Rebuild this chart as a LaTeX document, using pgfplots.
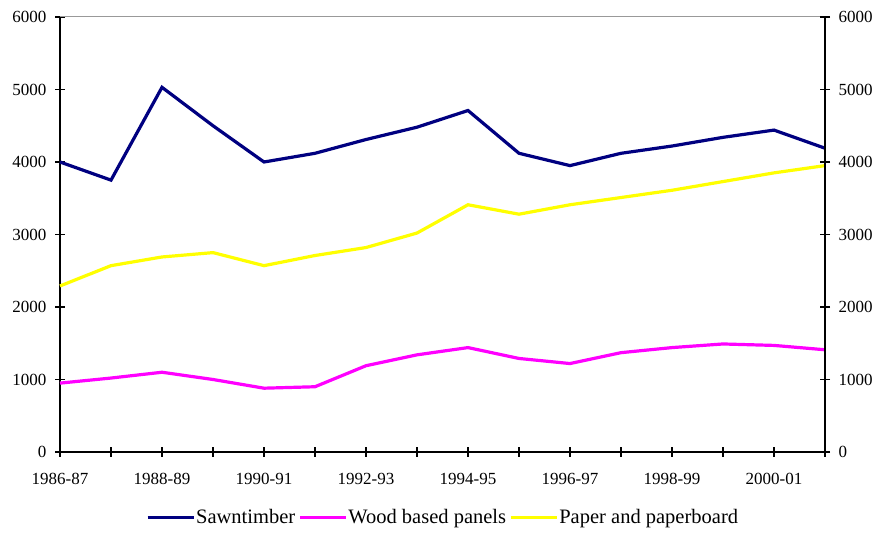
\documentclass[border=0pt]{standalone}
\usepackage{fontspec}
\setmainfont{Liberation Serif}
\usepackage{pgfplots}
\pgfplotsset{compat=1.18}
\definecolor{sawn}{RGB}{0,0,128}
\definecolor{wood}{RGB}{255,0,255}
\definecolor{paper}{RGB}{255,255,0}
\begin{document}
\begin{tikzpicture}
\pgfplotsset{
  common/.style={
    scale only axis, width=765pt, height=435pt,
    xmin=0, xmax=15, ymin=0, ymax=6000,
    ytick={0,1000,...,6000},
    tick align=center, major tick length=10pt,
    tick style={black, line width=1.3pt},
    /pgf/number format/assume math mode=true,
    /pgf/number format/1000 sep={},
    tick label style={font=\fontsize{17}{20}\selectfont},
  }
}
\begin{axis}[common, name=main,
  axis x line=bottom, axis y line=left,
  every outer x axis line/.append style={-, black, line width=1.3pt},
  every outer y axis line/.append style={-, black, line width=1.3pt},
  xtick={0,...,15},
  xticklabels={1986-87,,1988-89,,1990-91,,1992-93,,1994-95,,1996-97,,1998-99,,2000-01,},
  xticklabel style={yshift=-13pt},
  yticklabel style={xshift=-5pt},
  legend style={at={(0.5,-0.125)}, anchor=north, draw=none, legend columns=-1,
    font=\fontsize{20.5}{24}\selectfont,
    /tikz/every even column/.append style={column sep=2pt},
    nodes={inner sep=1pt}},
  legend image code/.code={\draw[#1] (0pt,0pt) -- (46pt,0pt);},
  clip=false,
]
\draw[gray!80, line width=1pt] (rel axis cs:0,1) -- (rel axis cs:1,1);
\addplot[sawn, line width=3.2pt] coordinates {
(0,4000) (1,3750) (2,5030) (3,4500) (4,4000) (5,4120) (6,4310) (7,4480)
(8,4710) (9,4120) (10,3950) (11,4120) (12,4220) (13,4340) (14,4440) (15,4190)};
\addlegendentry{Sawntimber}
\addplot[wood, line width=3.2pt] coordinates {
(0,950) (1,1020) (2,1100) (3,1000) (4,880) (5,900) (6,1190) (7,1340)
(8,1440) (9,1290) (10,1220) (11,1370) (12,1440) (13,1490) (14,1470) (15,1410)};
\addlegendentry{Wood based panels}
\addplot[paper, line width=3.2pt] coordinates {
(0,2290) (1,2570) (2,2690) (3,2750) (4,2570) (5,2710) (6,2820) (7,3020)
(8,3410) (9,3280) (10,3410) (11,3510) (12,3610) (13,3730) (14,3850) (15,3950)};
\addlegendentry{Paper and paperboard}
\end{axis}
\begin{axis}[common, at={(main.south west)}, anchor=south west,
  axis x line=none, axis y line=right,
  every outer y axis line/.append style={-, black, line width=1.3pt},
  yticklabel style={xshift=5pt}]
\end{axis}
\pgfresetboundingbox
\path[use as bounding box] ([xshift=-60pt,yshift=-81pt]main.south west) rectangle ([xshift=52pt,yshift=17pt]main.north east);
\end{tikzpicture}
\end{document}
